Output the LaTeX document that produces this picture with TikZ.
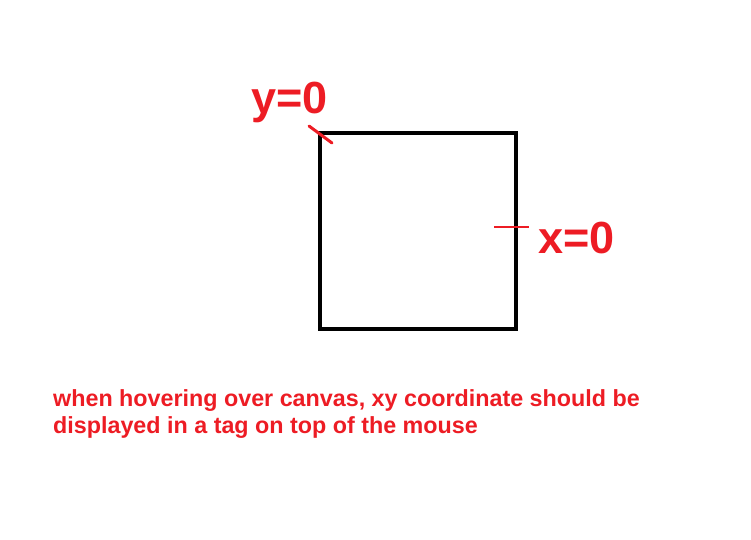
\documentclass[tikz,border=0pt]{standalone}
\usepackage{fontspec}
\setmainfont{Liberation Sans}
\definecolor{paintred}{HTML}{ED1C24}
\usetikzlibrary{positioning}

\begin{document}
\begin{tikzpicture}[x=1pt, y=-1pt,
  canvas/.style={draw=black, line width=4.5pt},
  axislabel/.style={text=paintred, inner sep=0pt, anchor=base west,
                    font=\bfseries\fontsize{45}{54}\selectfont},
  note/.style={text=paintred, inner sep=0pt, anchor=base west, align=left,
               font=\bfseries\fontsize{23.3}{27}\selectfont},
  originmark/.style={draw=paintred, line width=3pt, line cap=round},
  origintick/.style={draw=paintred, line width=1.2pt}]
  \useasboundingbox (0,0) rectangle (751,539);
  % the canvas
  \coordinate (tl) at (320,133);
  \coordinate (br) at (516,329);
  \draw[canvas] (tl) rectangle (br);
  % origin markers
  \coordinate (ymarkA) at (309,126);
  \coordinate (ymarkB) at (332,143);
  \draw[originmark] (ymarkA) -- (ymarkB);
  \coordinate (xtickA) at (494,227);
  \coordinate (xtickB) at (529,227);
  \draw[origintick] (xtickA) -- (xtickB);
  \node[axislabel] (ylabel) at (251,113) {y=0};
  \node[axislabel] (xlabel) at (538,253) {x=0};
  % hint
  \node[note] (hint) at (53,433) {when hovering over canvas, xy coordinate should be\\displayed in a tag on top of the mouse};
\end{tikzpicture}
\end{document}
